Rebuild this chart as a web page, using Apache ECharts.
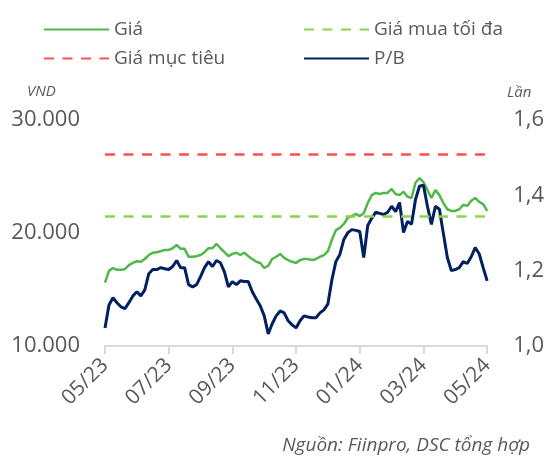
<!DOCTYPE html>
<html>
<head>
<meta charset="utf-8">
<script src="https://cdn.jsdelivr.net/npm/echarts@6/dist/echarts.min.js"></script>
<style>
  html, body { margin: 0; padding: 0; background: #fff; }
  #chart { width: 547px; height: 459px; }
</style>
</head>
<body>
<div id="chart"></div>
<script>
// nhãn trục thời gian (mỗi 2 tháng)
const tickLabels = ['05/23', '07/23', '09/23', '11/23', '01/24', '03/24', '05/24'];

// Giá cổ phiếu (VND)
const price = [
  15600, 16650, 16900, 16750, 16750, 16800, 17150, 17350, 17500, 17450,
  17700, 18050, 18250, 18300, 18400, 18500, 18500, 18650, 18950, 18600,
  18600, 17900, 17900, 17950, 18050, 18300, 18650, 18650, 19050, 18650,
  18300, 17950, 18150, 18250, 18050, 18250, 17950, 17700, 17450, 17350,
  16900, 17100, 17700, 17900, 18150, 17800, 17600, 17450, 17350, 17600,
  17700, 17700, 17600, 17700, 17900, 18050, 18400, 19400, 20250, 20450,
  20800, 21350, 21500, 21700, 21500, 21750, 22650, 23350, 23550, 23450,
  23550, 23550, 23900, 23450, 23350, 23650, 23200, 23100, 24450, 24850,
  24500, 23800, 23100, 23800, 23350, 22650, 22100, 21950, 21950, 22100,
  22500, 22400, 22850, 23100, 22750, 22550, 21950
];

// P/B (lần)
const pb = [
  1.048, 1.109, 1.128, 1.115, 1.104, 1.099, 1.115, 1.133, 1.144, 1.133,
  1.149, 1.192, 1.203, 1.203, 1.208, 1.205, 1.203, 1.211, 1.227, 1.208,
  1.208, 1.163, 1.157, 1.163, 1.184, 1.208, 1.224, 1.211, 1.227, 1.221,
  1.197, 1.157, 1.171, 1.163, 1.173, 1.171, 1.171, 1.144, 1.125, 1.107,
  1.080, 1.032, 1.059, 1.080, 1.093, 1.088, 1.067, 1.056, 1.048, 1.067,
  1.080, 1.077, 1.075, 1.075, 1.088, 1.096, 1.112, 1.176, 1.224, 1.243,
  1.283, 1.301, 1.309, 1.307, 1.304, 1.235, 1.320, 1.339, 1.355, 1.352,
  1.349, 1.355, 1.371, 1.357, 1.381, 1.301, 1.331, 1.323, 1.389, 1.424,
  1.427, 1.371, 1.323, 1.371, 1.363, 1.299, 1.235, 1.200, 1.203, 1.208,
  1.224, 1.219, 1.237, 1.261, 1.245, 1.208, 1.173
];

const targetPrice = 27000;   // Giá mục tiêu
const maxBuyPrice = 21500;   // Giá mua tối đa

const step = 16; // số điểm giữa 2 nhãn
const days = price.map((_, i) => i);

const grey = '#595959';
const font = 'Open Sans';
const dash = [10, 8.5];

const chart = echarts.init(document.getElementById('chart'));

const legendBase = {
  orient: 'vertical',
  top: 15,
  itemWidth: 65,
  itemHeight: 10,
  itemGap: 10,
  itemStyle: { opacity: 0 },
  textStyle: { color: grey, fontSize: 19, fontFamily: font },
  selectedMode: false
};

chart.setOption({
  animation: false,
  legend: [
    Object.assign({}, legendBase, { left: 38, data: ['Giá', 'Giá mục tiêu'] }),
    Object.assign({}, legendBase, { left: 298, data: ['Giá mua tối đa', 'P/B'] })
  ],
  grid: { left: 105, right: 58, top: 120, bottom: 113 },
  xAxis: {
    type: 'category',
    data: days,
    boundaryGap: false,
    axisLine: { lineStyle: { color: '#d9d9d9', width: 2 } },
    axisTick: { interval: step - 1, length: 8, lineStyle: { color: '#d9d9d9', width: 2 } },
    axisLabel: {
      interval: step - 1,
      rotate: 45,
      margin: 16,
      color: grey,
      fontSize: 21,
      fontFamily: font,
      formatter: v => tickLabels[Math.round(v / step)] || ''
    }
  },
  yAxis: [
    {
      type: 'value',
      min: 10000, max: 30000, interval: 10000,
      splitLine: { show: false },
      axisLine: { show: false },
      axisTick: { show: false },
      axisLabel: {
        margin: 25, color: grey, fontSize: 22, fontFamily: font,
        formatter: v => v.toLocaleString('de-DE')
      }
    },
    {
      type: 'value',
      min: 1.0, max: 1.6, interval: 0.2,
      splitLine: { show: false },
      axisLine: { show: false },
      axisTick: { show: false },
      axisLabel: {
        margin: 26, color: grey, fontSize: 22, fontFamily: font,
        formatter: v => v.toFixed(1).replace('.', ',')
      }
    }
  ],
  graphic: [
    { type: 'text', left: 27, top: 84, style: { text: 'VND', fill: grey, font: 'italic 15px "Open Sans"' } },
    { type: 'text', left: 507, top: 85, style: { text: 'Lần', fill: grey, font: 'italic 15px "Open Sans"' } },
    { type: 'text', right: 17, top: 436, style: { text: 'Nguồn: Fiinpro, DSC tổng hợp', fill: grey, font: 'italic 19px "Open Sans"' } }
  ],
  series: [
    {
      name: 'Giá',
      type: 'line',
      data: price,
      yAxisIndex: 0,
      symbol: 'none',
      z: 3,
      lineStyle: { color: '#4fb848', width: 2.5 },
      itemStyle: { color: '#4fb848' }
    },
    {
      name: 'Giá mục tiêu',
      type: 'line',
      data: [],
      yAxisIndex: 0,
      symbol: 'none',
      lineStyle: { color: '#ff5050', width: 2.5, type: dash },
      itemStyle: { color: '#ff5050' },
      markLine: {
        silent: true,
        symbol: 'none',
        label: { show: false },
        lineStyle: { color: '#ff5050', width: 2.5, type: dash },
        data: [{ yAxis: targetPrice }]
      }
    },
    {
      name: 'Giá mua tối đa',
      type: 'line',
      data: [],
      yAxisIndex: 0,
      symbol: 'none',
      lineStyle: { color: '#8fd14f', width: 2.5, type: dash },
      itemStyle: { color: '#8fd14f' },
      markLine: {
        silent: true,
        symbol: 'none',
        label: { show: false },
        lineStyle: { color: '#8fd14f', width: 2.5, type: dash },
        data: [{ yAxis: maxBuyPrice }]
      }
    },
    {
      name: 'P/B',
      type: 'line',
      data: pb,
      yAxisIndex: 1,
      symbol: 'none',
      z: 4,
      lineStyle: { color: '#002060', width: 3 },
      itemStyle: { color: '#002060' }
    }
  ]
});
</script>
</body>
</html>
